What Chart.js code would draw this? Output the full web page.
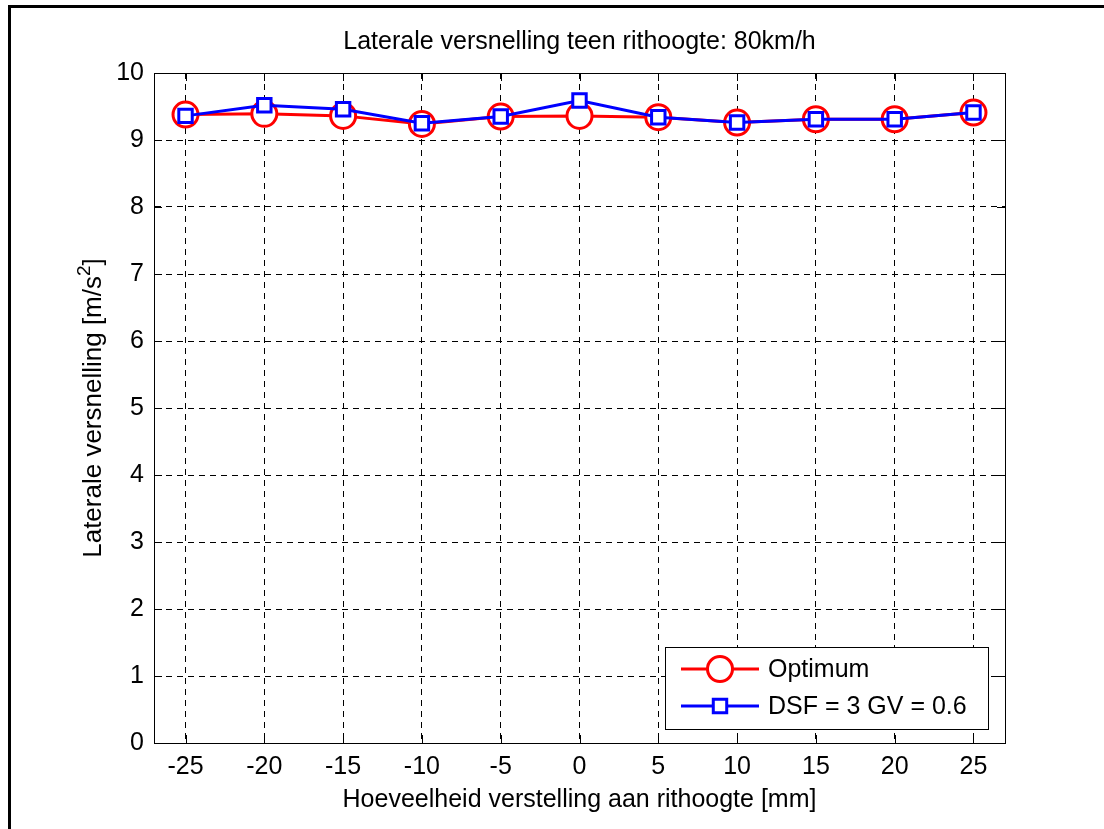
<!DOCTYPE html>
<html>
<head>
<meta charset="utf-8">
<script src="https://cdn.jsdelivr.net/npm/chart.js@4"></script>
<style>
  html, body { margin: 0; padding: 0; background: #fff; }
  #wrap { width: 1104px; height: 829px; }
</style>
</head>
<body>
<div id="wrap"><canvas id="c" width="1104" height="829"></canvas></div>
<script>
// Adjustment of ride height [mm]
const steps = [-25, -20, -15, -10, -5, 0, 5, 10, 15, 20, 25];
// Lateral acceleration [m/s^2] per setting
const optimum = [9.38, 9.39, 9.36, 9.24, 9.35, 9.36, 9.34, 9.26, 9.31, 9.31, 9.41];
const dsf = [9.36, 9.52, 9.46, 9.25, 9.35, 9.59, 9.34, 9.26, 9.31, 9.31, 9.41];
const xTickValues = [-25, -20, -15, -10, -5, 0, 5, 10, 15, 20, 25];
const yTickValues = [0, 1, 2, 3, 4, 5, 6, 7, 8, 9, 10];
const seriesNames = ['Optimum', 'DSF = 3 GV = 0.6'];
const titleText = 'Laterale versnelling teen rithoogte: 80km/h';
const xTitle = 'Hoeveelheid verstelling aan rithoogte [mm]';
const yTitle = 'Laterale versnelling [m/s';
const yTitleSup = '2';

const FONT = '"Liberation Sans", Arial, Helvetica, sans-serif';
const FS = 25;
const YFS = 26;

const decorations = {
  id: 'decorations',
  beforeDraw(chart) {
    const ctx = chart.ctx;
    ctx.save();
    ctx.fillStyle = '#fff';
    ctx.fillRect(0, 0, chart.width, chart.height);
    // figure frame
    ctx.fillStyle = '#000';
    ctx.fillRect(8, 5, chart.width - 8, 3);
    ctx.fillRect(8, 5, 3, chart.height - 5);
    ctx.restore();
  },
  afterDraw(chart) {
    const ctx = chart.ctx;
    const a = chart.chartArea;
    const xs = chart.scales.x, ys = chart.scales.y;
    ctx.save();
    // axes box
    ctx.strokeStyle = '#000';
    ctx.lineWidth = 1;
    ctx.strokeRect(Math.round(a.left) + 0.5, Math.round(a.top) + 0.5,
                   Math.round(a.right - a.left), Math.round(a.bottom - a.top));
    // inward tick marks on all four sides
    const tl = 8;
    ctx.beginPath();
    xTickValues.forEach(v => {
      const px = Math.round(xs.getPixelForValue(v)) + 0.5;
      ctx.moveTo(px, a.bottom); ctx.lineTo(px, a.bottom - tl);
      ctx.moveTo(px, a.top); ctx.lineTo(px, a.top + tl);
    });
    yTickValues.forEach(v => {
      const py = Math.round(ys.getPixelForValue(v)) + 0.5;
      ctx.moveTo(a.left, py); ctx.lineTo(a.left + tl, py);
      ctx.moveTo(a.right, py); ctx.lineTo(a.right - tl, py);
    });
    ctx.stroke();

    // titles
    ctx.fillStyle = '#000';
    ctx.font = FS + 'px ' + FONT;
    ctx.textAlign = 'center';
    ctx.textBaseline = 'middle';
    const cx = (a.left + a.right) / 2;
    ctx.fillText(titleText, cx, 42);
    ctx.fillText(xTitle, cx, 800);

    // y title with superscript
    ctx.save();
    const cy = (a.top + a.bottom) / 2;
    ctx.translate(94, cy);
    ctx.rotate(-Math.PI / 2);
    ctx.textAlign = 'left';
    ctx.textBaseline = 'middle';
    ctx.font = YFS + 'px ' + FONT;
    const w1 = ctx.measureText(yTitle).width;
    ctx.font = Math.round(YFS * 0.72) + 'px ' + FONT;
    const w2 = ctx.measureText(yTitleSup).width;
    ctx.font = YFS + 'px ' + FONT;
    const w3 = ctx.measureText(']').width;
    let x0 = -(w1 + w2 + w3) / 2;
    ctx.fillText(yTitle, x0, 0);
    ctx.font = Math.round(YFS * 0.72) + 'px ' + FONT;
    ctx.fillText(yTitleSup, x0 + w1, -9);
    ctx.font = YFS + 'px ' + FONT;
    ctx.fillText(']', x0 + w1 + w2, 0);
    ctx.restore();

    // legend
    const lx = 665, ly = 647, lw = 323, lh = 82;
    ctx.fillStyle = '#fff';
    ctx.fillRect(lx, ly, lw, lh);
    ctx.strokeStyle = '#000';
    ctx.lineWidth = 1;
    ctx.strokeRect(lx + 0.5, ly + 0.5, lw, lh);
    const rows = [669, 706];
    chart.data.datasets.forEach((ds, i) => {
      const y = rows[i];
      ctx.strokeStyle = ds.borderColor;
      ctx.lineWidth = 3;
      ctx.beginPath();
      ctx.moveTo(681, y); ctx.lineTo(759, y);
      ctx.stroke();
      ctx.fillStyle = '#fff';
      ctx.beginPath();
      if (ds.pointStyle === 'circle') {
        ctx.arc(720, y, ds.pointRadius, 0, Math.PI * 2);
      } else {
        const s = ds.pointRadius * Math.SQRT1_2;
        ctx.rect(720 - s, y - s, 2 * s, 2 * s);
      }
      ctx.fill();
      ctx.stroke();
      ctx.fillStyle = '#000';
      ctx.font = FS + 'px ' + FONT;
      ctx.textAlign = 'left';
      ctx.textBaseline = 'middle';
      ctx.fillText(ds.label, 768, y + 1);
    });
    ctx.restore();
  }
};

const toPoints = arr => steps.map((x, i) => ({ x: x, y: arr[i] }));

new Chart(document.getElementById('c'), {
  type: 'line',
  data: {
    datasets: [
      {
        label: seriesNames[0],
        data: toPoints(optimum),
        borderColor: '#ff0000',
        backgroundColor: '#ffffff',
        pointBackgroundColor: '#ffffff',
        borderWidth: 3,
        pointBorderWidth: 3,
        pointStyle: 'circle',
        pointRadius: 12.5,
        tension: 0,
        order: 2
      },
      {
        label: seriesNames[1],
        data: toPoints(dsf),
        borderColor: '#0000ff',
        backgroundColor: '#ffffff',
        pointBackgroundColor: '#ffffff',
        borderWidth: 3,
        pointBorderWidth: 3,
        pointStyle: 'rect',
        pointRadius: 9.5,
        tension: 0,
        order: 1
      }
    ]
  },
  options: {
    responsive: false,
    animation: false,
    events: [],
    layout: { padding: { top: 73, right: 99, bottom: 0, left: 0 } },
    plugins: {
      legend: { display: false },
      title: { display: false },
      tooltip: { enabled: false }
    },
    scales: {
      x: {
        type: 'linear',
        min: -27,
        max: 27,
        afterBuildTicks: s => { s.ticks = xTickValues.map(v => ({ value: v })); },
        afterFit: s => { s.height = 86; },
        grid: { color: '#000', lineWidth: 1, drawTicks: false },
        border: { display: true, color: '#000', width: 1, dash: [6, 5] },
        ticks: { color: '#000', font: { family: FONT, size: FS }, padding: 9, maxRotation: 0, autoSkip: false }
      },
      y: {
        type: 'linear',
        min: 0,
        max: 10,
        afterBuildTicks: s => { s.ticks = yTickValues.map(v => ({ value: v })); },
        afterFit: s => { s.width = 154; },
        grid: { color: '#000', lineWidth: 1, drawTicks: false },
        border: { display: true, color: '#000', width: 1, dash: [6, 5] },
        ticks: { color: '#000', font: { family: FONT, size: FS }, padding: 10, autoSkip: false }
      }
    }
  },
  plugins: [decorations]
});
</script>
</body>
</html>
